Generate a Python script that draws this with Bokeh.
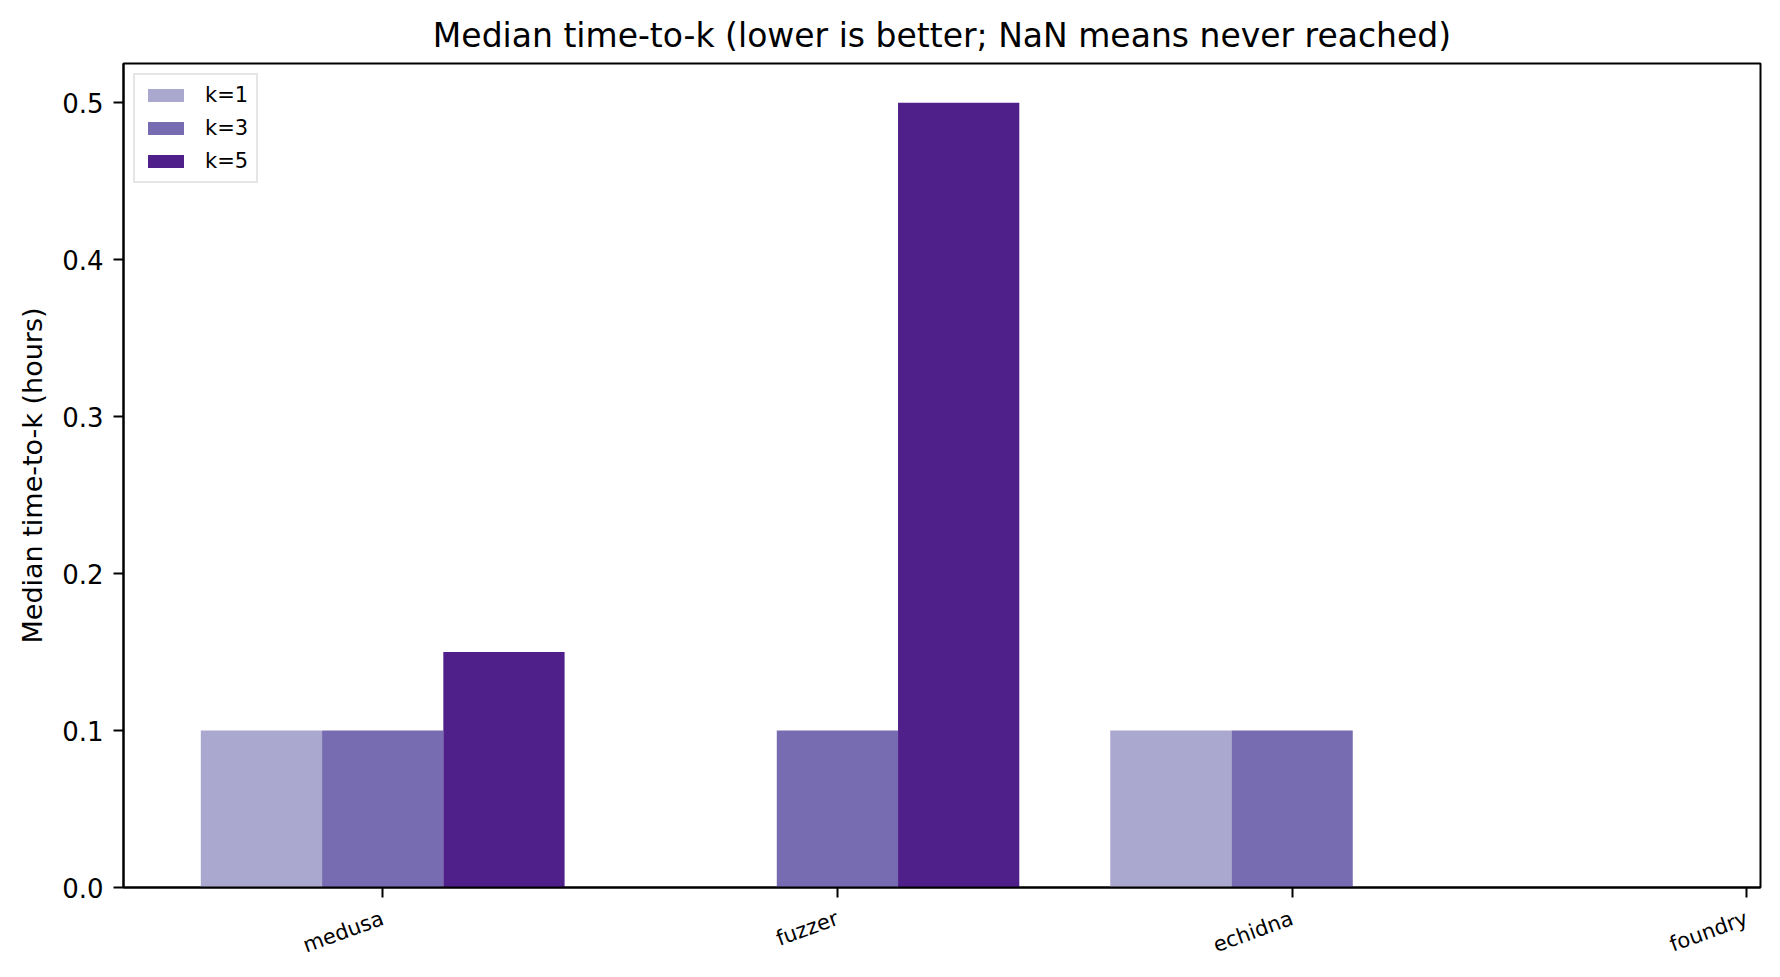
import numpy as np
from bokeh.plotting import figure
from bokeh.models import Range1d, FixedTicker, ColumnDataSource, Legend, LegendItem
from bokeh.embed import file_html
from bokeh.resources import INLINE

categories = ["medusa", "fuzzer", "echidna", "foundry"]
k_labels = ["k=1", "k=3", "k=5"]
k1 = [0.1, np.nan, 0.1, np.nan]
k3 = [0.1, 0.1, 0.1, np.nan]
k5 = [0.15, 0.5, np.nan, np.nan]
colors = ["#aba8d0", "#776cb1", "#4f1f8a"]

FONT = "DejaVu Sans"

p = figure(width=1780, height=977, output_backend="svg", toolbar_location=None,
           x_range=Range1d(-0.57, 3.03), y_range=Range1d(0, 0.525),
           min_border_left=123, min_border_right=20, min_border_top=63, min_border_bottom=90)
p.title.text = "Median time-to-k (lower is better; NaN means never reached)"
p.title.text_font = FONT
p.title.text_font_size = "33px"
p.title.text_font_style = "normal"
p.title.align = "center"
p.title.text_color = "black"
p.title.standoff = 17

p.xgrid.visible = False
p.ygrid.visible = False
p.outline_line_color = "black"
p.outline_line_alpha = 1
p.outline_line_width = 2

x = np.arange(len(categories), dtype=float)
w = 0.8 / 3
series = [k1, k3, k5]
items = []
for i, (vals, col, lab) in enumerate(zip(series, colors, k_labels)):
    src = ColumnDataSource(dict(x=x + (i - 1) * w, top=np.array(vals, dtype=float)))
    r = p.vbar(x="x", top="top", bottom=0, width=w, source=src,
               fill_color=col, line_color=None)
    items.append(LegendItem(label=lab, renderers=[r]))

legend = Legend(items=items, location="top_left", margin=10,
                label_text_font=FONT, label_text_font_size="21px", label_text_color="black",
                glyph_width=45, glyph_height=16, label_height=20, label_standoff=17,
                spacing=9, padding=8,
                border_line_color="#cccccc", border_line_width=2,
                background_fill_alpha=0.8)
p.add_layout(legend)

xa = p.xaxis[0]
xa.ticker = FixedTicker(ticks=list(range(len(categories))))
xa.major_label_overrides = {i: c for i, c in enumerate(categories)}
xa.major_label_orientation = np.deg2rad(20)
xa.major_label_text_font = FONT
xa.major_label_text_font_size = "21px"
xa.major_label_standoff = 20

ya = p.yaxis[0]
ya.ticker = FixedTicker(ticks=[0.0, 0.1, 0.2, 0.3, 0.4, 0.5])
ya.major_label_overrides = {0.0: "0.0", 0.1: "0.1", 0.2: "0.2", 0.3: "0.3", 0.4: "0.4", 0.5: "0.5"}
ya.major_label_text_font = FONT
ya.major_label_text_font_size = "26px"
ya.major_label_standoff = 10
ya.axis_label = "Median time-to-k (hours)"
ya.axis_label_text_font = FONT
ya.axis_label_text_font_size = "27px"
ya.axis_label_text_font_style = "normal"
ya.axis_label_text_color = "black"
ya.axis_label_standoff = 11

for ax in (xa, ya):
    ax.axis_line_width = 2
    ax.axis_line_color = "black"
    ax.major_tick_line_width = 2
    ax.major_tick_out = 10
    ax.major_tick_in = 0
    ax.minor_tick_line_color = None
    ax.major_label_text_color = "black"

open("out.html", "w").write(file_html(p, INLINE))
